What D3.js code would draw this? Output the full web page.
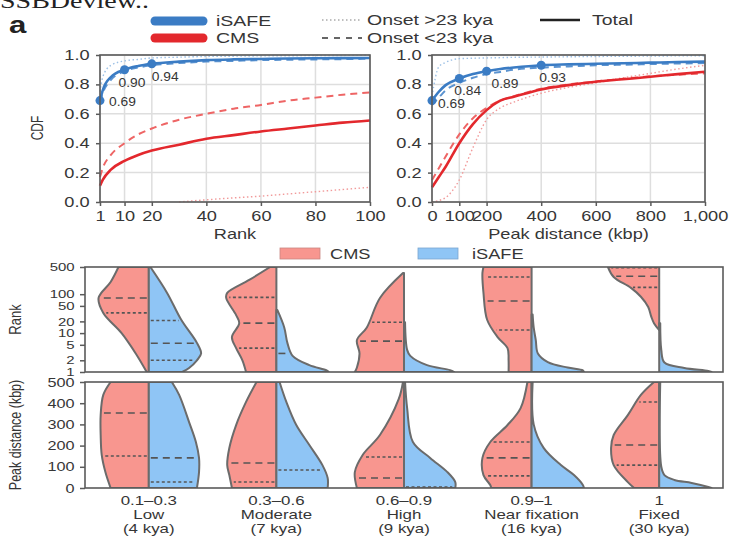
<!DOCTYPE html>
<html>
<head>
<meta charset="utf-8">
<script src="https://cdn.jsdelivr.net/npm/d3@7"></script>
<style>
body { margin: 0; background: #fff; }
svg { display: block; }
text { font-family: "Liberation Sans", Arial, sans-serif; fill: #363636; }
</style>
</head>
<body>
<svg id="chart" width="731" height="536"></svg>
<script>
// ---------- data: CDF panels ----------
var rankX = [1, 2, 5, 10, 15, 20, 30, 40, 50, 60, 70, 80, 90, 100];
var rankIsafeTotal = [0.69, 0.76, 0.85, 0.90, 0.925, 0.94, 0.955, 0.965, 0.97, 0.973, 0.976, 0.978, 0.979, 0.98];
var rankIsafeYoung = [0.68, 0.74, 0.83, 0.89, 0.915, 0.93, 0.945, 0.955, 0.96, 0.965, 0.968, 0.97, 0.972, 0.975];
var rankIsafeOld = [0.75, 0.85, 0.93, 0.96, 0.97, 0.98, 0.985, 0.99, 0.992, 0.994, 0.995, 0.996, 0.997, 0.998];
var rankCmsTotal = [0.11, 0.15, 0.22, 0.28, 0.32, 0.35, 0.39, 0.43, 0.455, 0.48, 0.50, 0.52, 0.54, 0.555];
var rankCmsYoung = [0.17, 0.23, 0.32, 0.40, 0.46, 0.50, 0.56, 0.60, 0.635, 0.66, 0.69, 0.71, 0.73, 0.745];
var rankCmsOld = [null, null, null, null, null, null, 0, 0.015, 0.028, 0.04, 0.055, 0.07, 0.085, 0.10];
var rankMarkX = [1, 10, 20];
var rankMarkY = [0.69, 0.90, 0.94];

var peakX = [0, 25, 50, 100, 150, 200, 250, 300, 400, 500, 600, 700, 800, 900, 1000];
var peakIsafeTotal = [0.69, 0.75, 0.795, 0.84, 0.87, 0.89, 0.905, 0.915, 0.93, 0.936, 0.94, 0.944, 0.948, 0.952, 0.955];
var peakIsafeYoung = [0.66, 0.71, 0.76, 0.81, 0.845, 0.87, 0.885, 0.90, 0.915, 0.922, 0.93, 0.934, 0.938, 0.942, 0.945];
var peakIsafeOld = [0.72, 0.92, 0.95, 0.975, 0.978, 0.98, 0.982, 0.984, 0.986, 0.988, 0.99, 0.991, 0.993, 0.994, 0.995];
var peakCmsTotal = [0.10, 0.17, 0.24, 0.40, 0.53, 0.625, 0.69, 0.716, 0.766, 0.795, 0.818, 0.835, 0.852, 0.87, 0.886];
var peakCmsYoung = [0.15, 0.23, 0.31, 0.46, 0.57, 0.64, 0.69, 0.72, 0.77, 0.80, 0.82, 0.838, 0.855, 0.866, 0.875];
var peakCmsOld = [0.0, 0.01, 0.03, 0.15, 0.37, 0.56, 0.64, 0.68, 0.74, 0.78, 0.81, 0.845, 0.875, 0.905, 0.93];
var peakMarkX = [0, 100, 200, 400];
var peakMarkY = [0.69, 0.84, 0.89, 0.93];

var rankTicks = [1, 10, 20, 40, 60, 80, 100];
var peakTicks = [0, 100, 200, 400, 600, 800, 1000];
var cdfTicks = [0, 0.2, 0.4, 0.6, 0.8, 1.0];

// ---------- data: violins ----------
var groupRange = ["0.1\u20130.3", "0.3\u20130.6", "0.6\u20130.9", "0.9\u20131", "1"];
var groupName = ["Low", "Moderate", "High", "Near fixation", "Fixed"];
var groupAge = ["(4 kya)", "(7 kya)", "(9 kya)", "(16 kya)", "(30 kya)"];

// [value, relative density]
var rankCms = [
    [[1, 0.04], [3, 0.25], [10, 0.52], [33, 0.87], [80, 0.96], [206, 0.73], [500, 0.58]],
    [[1, 0.58], [2, 0.65], [4.1, 0.77], [7.9, 0.85], [18, 0.71], [29, 0.77], [80, 0.96], [108, 0.94], [232, 0.52], [500, 0.12]],
    [[1, 0.94], [1.3, 0.9], [3, 0.85], [6.6, 0.9], [14, 0.71], [80, 0.46], [350, 0.02]],
    [[1, 0.44], [2, 0.44], [4.1, 0.46], [7.9, 0.65], [22, 0.85], [108, 0.92], [350, 0.94], [500, 0.92]],
    [[12, 0], [18, 0.1], [26, 0.15], [47, 0.21], [86, 0.35], [145, 0.54], [277, 0.87], [500, 0.98]]
];
var rankIsafe = [
    [[1, 0.64], [1.27, 0.77], [2, 0.92], [3, 1.0], [5.6, 0.92], [22, 0.62], [108, 0.35], [500, 0.03]],
    [[1, 1.0], [1.1, 0.96], [1.5, 0.63], [2.6, 0.31], [5.6, 0.21], [14, 0.15], [39, 0.02]],
    [[1, 0.96], [1.12, 0.88], [1.5, 0.44], [2.6, 0.12], [3.7, 0.06], [19, 0.02]],
    [[1, 1.0], [1.1, 0.98], [1.3, 0.69], [1.8, 0.31], [3, 0.12], [6.6, 0.08], [14, 0.04], [30, 0.02]],
    [[1, 1.0], [1.06, 0.94], [1.27, 0.48], [1.75, 0.1], [3.7, 0.04], [18, 0.02]]
];
var peakCms = [
    [[0, 0.73], [75, 0.83], [156, 0.9], [250, 0.92], [344, 0.92], [439, 0.87], [500, 0.73]],
    [[0, 0.85], [61, 0.9], [108, 0.94], [189, 0.9], [297, 0.77], [406, 0.58], [500, 0.38]],
    [[0, 0.9], [75, 0.94], [156, 0.79], [250, 0.46], [420, 0.1], [500, 0.02]],
    [[0, 0.77], [14, 0.79], [61, 0.92], [142, 0.94], [217, 0.79], [297, 0.46], [377, 0.21], [500, 0.08]],
    [[0, 0.48], [28, 0.6], [108, 0.87], [189, 0.92], [250, 0.87], [344, 0.6], [439, 0.35], [500, 0.1]]
];
var peakIsafe = [
    [[0, 0.92], [75, 0.96], [142, 0.96], [217, 0.9], [311, 0.77], [439, 0.58], [500, 0.44]],
    [[0, 0.98], [47, 0.98], [108, 0.88], [203, 0.63], [297, 0.38], [406, 0.19], [500, 0.06]],
    [[0, 0.98], [28, 0.98], [75, 0.83], [142, 0.5], [217, 0.17], [377, 0.06], [500, 0.02]],
    [[0, 1.0], [14, 0.98], [61, 0.81], [108, 0.56], [189, 0.23], [300, 0.04], [500, 0.02]],
    [[0, 1.0], [5, 0.94], [24, 0.62], [38, 0.29], [61, 0.1], [100, 0.04], [500, 0.02]]
];
// quartile lines: [value, style]
var rankCmsLines = [[[80, "dash"], [33, "dot"]], [[83, "dot"], [18, "dash"], [4.1, "dot"]], [[19, "dot"], [6.2, "dash"]], [[277, "dot"], [67, "dash"], [12, "dot"]], [[480, "dot"], [290, "dash"], [150, "dot"]]];
var rankIsafeLines = [[[21, "dot"], [5.5, "dash"], [2, "dot"]], [[3, "dash"]], [], [], []];
var peakCmsLines = [[[354, "dash"], [151, "dot"]], [[118, "dash"], [28, "dot"]], [[146, "dot"], [47, "dash"]], [[217, "dot"], [142, "dash"], [57, "dot"]], [[406, "dot"], [203, "dash"], [108, "dot"]]];
var peakIsafeLines = [[[142, "dash"], [28, "dot"]], [[85, "dot"]], [[4, "dot"]], [], []];
var rankAxisTicks = [1, 2, 5, 10, 20, 50, 100, 500];
var peakAxisTicks = [0, 100, 200, 300, 400, 500];

// ---------- style ----------
var SX = 1.3;
var BLUE = "#3b7cc4", RED = "#e3282d";
var CMS_FILL = "#f8968f", ISAFE_FILL = "#8fc5f5";
var FRAME = "#5a5a5a";

var svg = d3.select("#chart");

function label(g, x, y, str, size, anchor) {
    return g.append("text")
        .attr("transform", "translate(" + x + "," + y + ") scale(" + SX + ",1)")
        .attr("text-anchor", anchor || "start")
        .style("font-size", size + "px")
        .text(str);
}
function vlabel(g, x, y, str, size) {
    return g.append("text")
        .attr("transform", "translate(" + x + "," + y + ") rotate(-90) scale(1," + SX + ")")
        .attr("text-anchor", "middle")
        .style("font-size", size + "px")
        .text(str);
}
function styleAxis(sel, size) {
    sel.select(".domain").remove();
    sel.selectAll(".tick line").attr("stroke", FRAME).attr("stroke-width", 1.5);
    sel.selectAll(".tick text").style("font-size", size + "px")
        .attr("transform", "scale(" + SX + ",1)");
}

// cut-off header text and panel letter
svg.append("text").attr("transform", "translate(0,8) scale(1.4,1)")
    .style("font-family", "'Liberation Serif', serif").style("font-size", "20px").style("fill", "#222")
    .text("SSBDeview..");
svg.append("text").attr("transform", "translate(9,33) scale(1.3,1)")
    .style("font-size", "24px").style("font-weight", "bold").style("fill", "#222").text("a");

// ---------- top legend ----------
var leg = svg.append("g");
leg.append("line").attr("x1", 155).attr("x2", 203).attr("y1", 21).attr("y2", 21)
    .attr("stroke", BLUE).attr("stroke-width", 9).attr("stroke-linecap", "round");
leg.append("line").attr("x1", 155).attr("x2", 203).attr("y1", 38).attr("y2", 38)
    .attr("stroke", RED).attr("stroke-width", 9).attr("stroke-linecap", "round");
label(leg, 216, 26, "iSAFE", 15);
label(leg, 216, 43, "CMS", 15);
leg.append("line").attr("x1", 322).attr("x2", 362).attr("y1", 20).attr("y2", 20)
    .attr("stroke", "#aaa").attr("stroke-width", 1.5).attr("stroke-dasharray", "1.5,2.5");
leg.append("line").attr("x1", 322).attr("x2", 362).attr("y1", 38).attr("y2", 38)
    .attr("stroke", "#666").attr("stroke-width", 1.8).attr("stroke-dasharray", "6,6");
label(leg, 367, 25, "Onset >23 kya", 15);
label(leg, 367, 43, "Onset <23 kya", 15);
leg.append("line").attr("x1", 540).attr("x2", 580).attr("y1", 20).attr("y2", 20)
    .attr("stroke", "#222").attr("stroke-width", 2.5);
label(leg, 592, 25, "Total", 15);

// ---------- CDF panels ----------
function cdfPanel(left, right, domain, xs, ticks, fmt, series, markX, markY, offsets, title, showY) {
    var top = 55, bottom = 202;
    var x = d3.scaleLinear().domain(domain).range([left, right]);
    var y = d3.scaleLinear().domain([0, 1]).range([bottom, top]);
    var g = svg.append("g");

    g.append("g").selectAll("line").data(ticks).join("line")
        .attr("x1", d => x(d)).attr("x2", d => x(d)).attr("y1", top).attr("y2", bottom)
        .attr("stroke", "#dedede").attr("stroke-width", 1.5);
    g.append("g").selectAll("line").data(cdfTicks).join("line")
        .attr("x1", left).attr("x2", right).attr("y1", d => y(d)).attr("y2", d => y(d))
        .attr("stroke", "#dedede").attr("stroke-width", 1.5);

    var ax = g.append("g").attr("transform", "translate(0," + bottom + ")")
        .call(d3.axisBottom(x).tickValues(ticks).tickFormat(fmt).tickSize(4).tickPadding(5));
    styleAxis(ax, 14);
    var ay = g.append("g").attr("transform", "translate(" + left + ",0)")
        .call(d3.axisLeft(y).tickValues(cdfTicks).tickFormat(d3.format(".1f")).tickSize(4).tickPadding(4));
    styleAxis(ay, 14);

    series.forEach(function(s) {
        var pts = xs.map((v, i) => [v, s.values[i]]);
        var line = d3.line().defined(d => d[1] !== null)
            .x(d => x(d[0])).y(d => y(d[1])).curve(d3.curveMonotoneX);
        g.append("path").datum(pts).attr("d", line).attr("fill", "none")
            .attr("stroke", s.color).attr("stroke-width", s.width)
            .attr("stroke-dasharray", s.dash || null);
    });

    g.selectAll("circle.mk").data(markX).join("circle").attr("class", "mk")
        .attr("cx", d => x(d)).attr("cy", (d, i) => y(markY[i])).attr("r", 4.5).attr("fill", BLUE);
    markX.forEach(function(d, i) {
        label(g, x(d) + offsets[i][0], y(markY[i]) + offsets[i][1], d3.format(".2f")(markY[i]), 12)
            .attr("transform", "translate(" + (x(d) + offsets[i][0]) + "," + (y(markY[i]) + offsets[i][1]) + ") scale(1.15,1)");
    });

    g.append("rect").attr("x", left).attr("y", top).attr("width", right - left).attr("height", bottom - top)
        .attr("fill", "none").attr("stroke", FRAME).attr("stroke-width", 1.6);
    label(g, (left + right) / 2, 239, title, 14, "middle");
    if (showY) vlabel(g, 43, 128, "CDF", 12);
}

function seriesOf(total, young, old) {
    return [
        { values: old[1], color: "#f19a9a", width: 1.4, dash: "1.5,2.5" },
        { values: old[0], color: "#9cc0e6", width: 1.4, dash: "1.5,2.5" },
        { values: young[1], color: "#ee6565", width: 2, dash: "7,5" },
        { values: young[0], color: "#5b93d0", width: 2, dash: "7,5" },
        { values: total[1], color: RED, width: 2.6 },
        { values: total[0], color: BLUE, width: 2.6 }
    ];
}

cdfPanel(100, 370, [1, 100], rankX, rankTicks, d3.format("d"),
    seriesOf([rankIsafeTotal, rankCmsTotal], [rankIsafeYoung, rankCmsYoung], [rankIsafeOld, rankCmsOld]),
    rankMarkX, rankMarkY, [[9, 5], [-6, 17], [0, 17]], "Rank", true);
cdfPanel(432, 705, [0, 1000], peakX, peakTicks, d3.format(","),
    seriesOf([peakIsafeTotal, peakCmsTotal], [peakIsafeYoung, peakCmsYoung], [peakIsafeOld, peakCmsOld]),
    peakMarkX, peakMarkY, [[6, 7], [-5, 16], [5, 17], [-2, 17]], "Peak distance (kbp)", false);

// ---------- violin legend ----------
var vleg = svg.append("g");
vleg.append("rect").attr("x", 280).attr("y", 248).attr("width", 40).attr("height", 11)
    .attr("fill", CMS_FILL).attr("stroke", "#c98580").attr("stroke-width", 0.8);
label(vleg, 330, 259, "CMS", 14);
vleg.append("rect").attr("x", 418).attr("y", 248).attr("width", 40).attr("height", 11)
    .attr("fill", ISAFE_FILL).attr("stroke", "#7aa6cf").attr("stroke-width", 0.8);
label(vleg, 472, 259, "iSAFE", 14);

// ---------- violin panels ----------
var band = d3.scaleBand().domain(groupName).range([85, 723]);
var halfW = d3.scaleLinear().domain([0, 1]).range([0, band.bandwidth() / 2 * 0.82]);

function widthAt(profile, v, y) {
    var yy = y(v);
    for (var i = 0; i < profile.length - 1; i++) {
        var a = y(profile[i][0]), b = y(profile[i + 1][0]);
        if ((yy <= a && yy >= b) || (yy >= a && yy <= b)) {
            var t = (a === b) ? 0 : (yy - a) / (b - a);
            return profile[i][1] + t * (profile[i + 1][1] - profile[i][1]);
        }
    }
    return 0;
}

function violinPanel(id, top, bottom, y, cms, isafe, cmsLines, isafeLines, ticks, tickSize, title, titleSize) {
    var g = svg.append("g");
    g.append("clipPath").attr("id", id).append("rect")
        .attr("x", 85).attr("y", top).attr("width", 638).attr("height", bottom - top);
    var body = g.append("g").attr("clip-path", "url(#" + id + ")");

    groupName.forEach(function(name, gi) {
        var cx = band(name) + band.bandwidth() / 2;
        [[cms[gi], -1, CMS_FILL, cmsLines[gi]], [isafe[gi], 1, ISAFE_FILL, isafeLines[gi]]].forEach(function(h) {
            var prof = h[0], dir = h[1];
            var area = d3.area().y(d => y(d[0])).x0(cx).x1(d => cx + dir * halfW(d[1]))
                .curve(d3.curveCatmullRom);
            body.append("path").datum(prof).attr("d", area)
                .attr("fill", h[2]).attr("stroke", "#6b6b6b").attr("stroke-width", 2)
                .attr("stroke-linejoin", "round");
            h[3].forEach(function(q) {
                var w = halfW(widthAt(prof, q[0], y));
                body.append("line").attr("x1", cx + dir * 2).attr("x2", cx + dir * Math.max(w - 3, 2))
                    .attr("y1", y(q[0])).attr("y2", y(q[0]))
                    .attr("stroke", "#555").attr("stroke-width", 1.6)
                    .attr("stroke-dasharray", q[1] === "dash" ? "7,5" : "3,2.5");
            });
        });
    });

    var ay = g.append("g").attr("transform", "translate(85,0)")
        .call(d3.axisLeft(y).tickValues(ticks).tickFormat(d3.format("d")).tickSize(5).tickPadding(3));
    styleAxis(ay, tickSize);
    g.append("rect").attr("x", 85).attr("y", top).attr("width", 638).attr("height", bottom - top)
        .attr("fill", "none").attr("stroke", FRAME).attr("stroke-width", 1.6);
    vlabel(g, 21, (top + bottom) / 2, title, titleSize);
}

var yRank = d3.scaleLog().domain([1, 500]).range([372, 267]);
var yPeak = d3.scaleLinear().domain([0, 500]).range([488, 382]);
violinPanel("clipRank", 267, 372, yRank, rankCms, rankIsafe, rankCmsLines, rankIsafeLines, rankAxisTicks, 11.5, "Rank", 13);
violinPanel("clipPeak", 382, 488, yPeak, peakCms, peakIsafe, peakCmsLines, peakIsafeLines, peakAxisTicks, 12.5, "Peak distance (kbp)", 12.5);

// category labels
var cats = svg.append("g");
groupName.forEach(function(name, i) {
    var cx = band(name) + band.bandwidth() / 2;
    label(cats, cx, 505, groupRange[i], 13, "middle");
    label(cats, cx, 519, groupName[i], 13, "middle");
    label(cats, cx, 533, groupAge[i], 13, "middle");
});
</script>
</body>
</html>
